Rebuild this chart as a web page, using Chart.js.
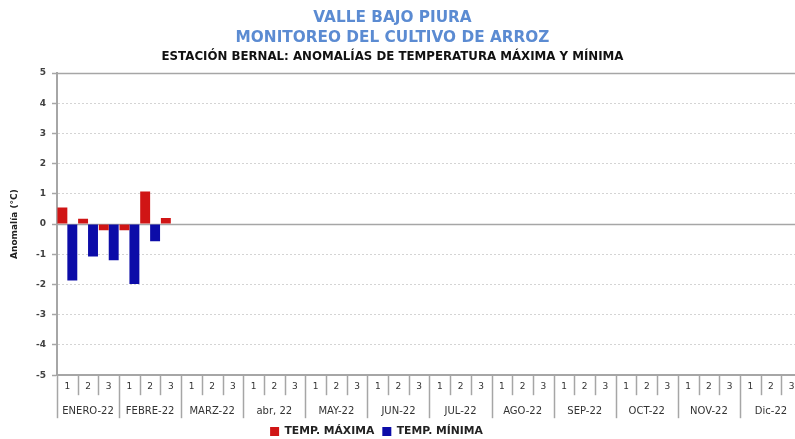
<!DOCTYPE html>
<html>
<head>
<meta charset="utf-8">
<script src="https://cdn.jsdelivr.net/npm/chart.js@4"></script>
<style>
  html, body { margin: 0; padding: 0; background: #fff; overflow: hidden; }
  #wrap { width: 810px; height: 439px; }
</style>
</head>
<body>
<div id="wrap"><canvas id="anomChart" width="810" height="439"></canvas></div>
<script>
const months = ["ENERO-22", "FEBRE-22", "MARZ-22", "abr, 22", "MAY-22", "JUN-22",
                "JUL-22", "AGO-22", "SEP-22", "OCT-22", "NOV-22", "Dic-22"];
const decades = ["1", "2", "3"];
const labels = months.flatMap(() => decades);

// anomalias por decada (°C), solo ene-feb con datos
const tempMaxima = [0.55, 0.18, -0.2, -0.2, 1.08, 0.2,
  null, null, null, null, null, null, null, null, null, null, null, null,
  null, null, null, null, null, null, null, null, null, null, null, null,
  null, null, null, null, null, null];
const tempMinima = [-1.87, -1.07, -1.2, -1.98, -0.57, 0,
  null, null, null, null, null, null, null, null, null, null, null, null,
  null, null, null, null, null, null, null, null, null, null, null, null,
  null, null, null, null, null, null];

Chart.defaults.font.family = "'DejaVu Sans', sans-serif";
Chart.defaults.color = '#404040';

const AXIS_GREY = '#a6a6a6';

// separadores de decada / mes bajo el eje x, linea cero y borde superior
const framePlugin = {
  id: 'frame',
  beforeDatasetsDraw(chart) {
    const { ctx, chartArea, scales: { y } } = chart;
    ctx.save();
    ctx.strokeStyle = AXIS_GREY;
    ctx.lineWidth = 1.5;
    [0, 5].forEach(v => {
      const py = Math.round(y.getPixelForValue(v)) + 0.5;
      ctx.beginPath();
      ctx.moveTo(chartArea.left, py);
      ctx.lineTo(chartArea.right, py);
      ctx.stroke();
    });
    ctx.restore();
  },
  afterDraw(chart) {
    const { ctx, chartArea, scales: { x } } = chart;
    const half = (x.getPixelForValue(1) - x.getPixelForValue(0)) / 2;
    ctx.save();
    ctx.strokeStyle = AXIS_GREY;
    ctx.lineWidth = 1.5;
    for (let i = 0; i <= labels.length; i++) {
      const px = Math.round(x.getPixelForValue(i) - half) + 0.5;
      const len = i % 3 === 0 ? 43 : 20;
      ctx.beginPath();
      ctx.moveTo(px, chartArea.bottom);
      ctx.lineTo(px, chartArea.bottom + len);
      ctx.stroke();
    }
    ctx.restore();
  },
  afterLayout(chart) {
    chart.legend.left -= 29;
    chart.legend.right -= 29;
    chart.boxes.forEach(b => {
      if (b !== chart.legend && b.options && b.options.text && b.position === 'top') {
        b.left -= 13;
        b.right -= 13;
      }
    });
  }
};

new Chart(document.getElementById('anomChart'), {
  type: 'bar',
  data: {
    labels: labels,
    datasets: [
      {
        label: 'TEMP. MÁXIMA',
        data: tempMaxima,
        backgroundColor: '#d01515',
        barPercentage: 1,
        categoryPercentage: 0.96
      },
      {
        label: 'TEMP. MÍNIMA',
        data: tempMinima,
        backgroundColor: '#0c0ca8',
        barPercentage: 1,
        categoryPercentage: 0.96
      }
    ]
  },
  options: {
    responsive: false,
    animation: false,
    layout: { padding: { left: 9, right: 8, top: 0, bottom: -8 } },
    plugins: {
      title: {
        display: true,
        text: ['VALLE BAJO PIURA', 'MONITOREO DEL CULTIVO DE ARROZ'],
        color: '#5b8bd2',
        font: { size: 15.3, weight: '700', lineHeight: '20px' },
        padding: { top: 8, bottom: 0 }
      },
      subtitle: {
        display: true,
        text: 'ESTACIÓN BERNAL: ANOMALÍAS DE TEMPERATURA MÁXIMA Y MÍNIMA',
        color: '#111',
        font: { size: 11.8, weight: '700', lineHeight: '13px' },
        padding: { top: 2, bottom: 10 }
      },
      legend: {
        display: true,
        position: 'bottom',
        labels: {
          boxWidth: 9,
          boxHeight: 9,
          padding: 8,
          color: '#222',
          font: { size: 10.8, weight: '700' }
        }
      },
      tooltip: { enabled: false }
    },
    scales: {
      x: {
        grid: { display: false, drawTicks: false },
        border: { display: true, color: AXIS_GREY, width: 2 },
        ticks: {
          font: { size: 9 },
          color: '#333',
          padding: 6,
          maxRotation: 0,
          autoSkip: false
        },
        afterFit: s => { s.height = 20; }
      },
      x2: {
        type: 'category',
        position: 'bottom',
        labels: months,
        grid: { display: false, drawTicks: false },
        border: { display: false },
        ticks: {
          font: { size: 10 },
          color: '#333',
          padding: 10,
          maxRotation: 0,
          autoSkip: false
        },
        afterFit: s => { s.height = 23; }
      },
      y: {
        min: -5,
        max: 5,
        ticks: {
          stepSize: 1,
          font: { size: 9, weight: '700' },
          color: '#404040',
          padding: 6
        },
        grid: {
          color: '#d4d4d4',
          drawTicks: true,
          tickLength: 5,
          tickColor: AXIS_GREY,
          tickWidth: 1.5
        },
        border: { display: true, color: AXIS_GREY, width: 2, dash: [2, 2] },
        title: {
          display: true,
          text: 'Anomalía (°C)',
          color: '#222',
          font: { size: 9, weight: '700' },
          padding: { top: 0, bottom: 8 }
        },
        afterFit: s => { s.width = 48; }
      }
    }
  },
  plugins: [framePlugin]
});
</script>
</body>
</html>
